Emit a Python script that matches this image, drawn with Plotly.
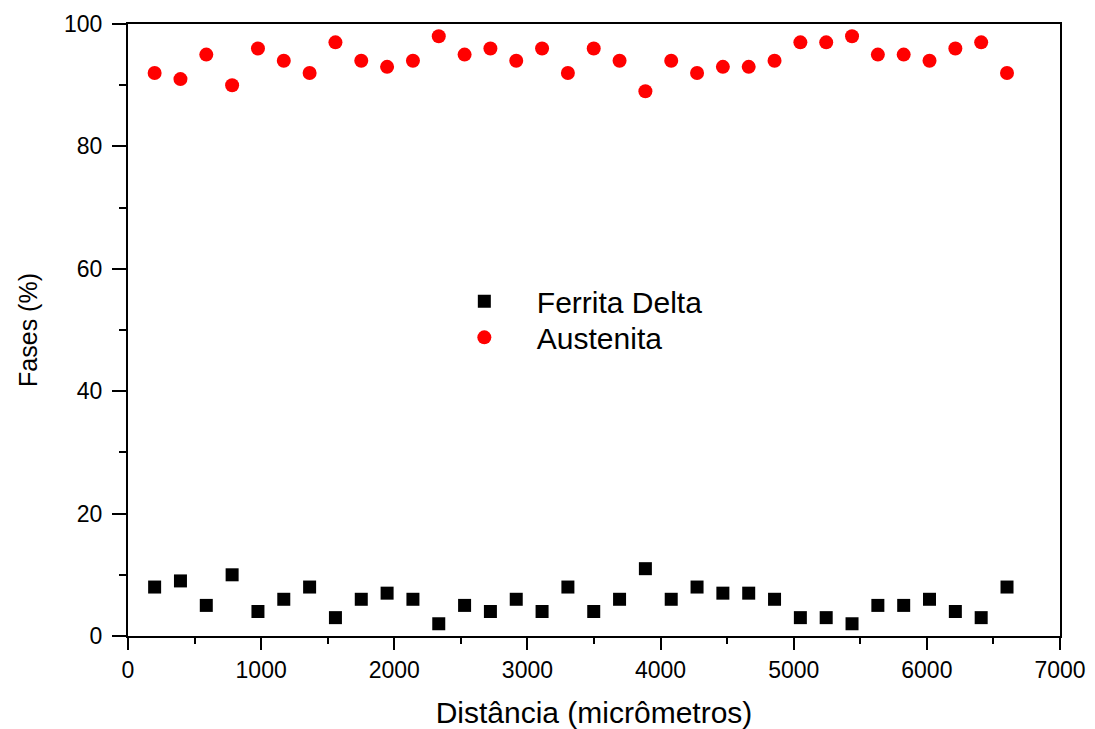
import plotly.graph_objects as go

distancia = [200, 394, 588, 782, 976, 1170, 1364, 1558, 1752, 1946, 2140, 2334,
             2528, 2722, 2916, 3110, 3304, 3498, 3692, 3886, 4080, 4274, 4468,
             4662, 4856, 5050, 5244, 5438, 5632, 5826, 6020, 6214, 6408, 6602]
ferrita = [8, 9, 5, 10, 4, 6, 8, 3, 6, 7, 6, 2, 5, 4, 6, 4, 8, 4, 6, 11, 6, 8,
           7, 7, 6, 3, 3, 2, 5, 5, 6, 4, 3, 8]
austenita = [92, 91, 95, 90, 96, 94, 92, 97, 94, 93, 94, 98, 95, 96, 94, 96, 92,
             96, 94, 89, 94, 92, 93, 93, 94, 97, 97, 98, 95, 95, 94, 96, 97, 92]

FONT = "Liberation Sans, Arial, sans-serif"

fig = go.Figure()
fig.add_trace(go.Scatter(x=distancia, y=ferrita, mode="markers", name="Ferrita Delta",
                         legend="legend",
                         marker=dict(symbol="square", size=13, color="black")))
fig.add_trace(go.Scatter(x=distancia, y=austenita, mode="markers", name="Austenita",
                         legend="legend2",
                         marker=dict(symbol="circle", size=14, color="#ff0000")))

common = dict(showline=True, linecolor="black", linewidth=2, mirror=True,
              ticks="outside", tickwidth=2, tickcolor="black",
              showgrid=False, zeroline=False, automargin=False,
              tickfont=dict(family=FONT, size=23, color="black"))

fig.update_xaxes(range=[0, 7000], dtick=1000, tick0=0, ticklen=12,
                 title=dict(text="Distância (micrômetros)", standoff=20,
                            font=dict(family=FONT, size=30, color="black")),
                 minor=dict(ticks="outside", ticklen=6, tickwidth=2, tickcolor="black", dtick=500),
                 **common)
fig.update_yaxes(range=[0, 100], dtick=20, tick0=0, ticklen=14, ticklabelstandoff=5,
                 title=dict(text="Fases (%)", standoff=19,
                            font=dict(family=FONT, size=25, color="black")),
                 minor=dict(ticks="outside", ticklen=7, tickwidth=2, tickcolor="black", dtick=10),
                 **common)

leg = dict(xanchor="left", yanchor="middle", bgcolor="rgba(0,0,0,0)", borderwidth=0,
           font=dict(family=FONT, size=30, color="black"), itemwidth=95)
fig.update_layout(
    width=1095, height=729,
    margin=dict(l=128, r=35, t=24, b=93),
    paper_bgcolor="white", plot_bgcolor="white",
    font=dict(family=FONT, color="black"),
    showlegend=True,
    legend=dict(x=0.326, y=0.547, **leg),
    legend2=dict(x=0.326, y=0.488, **leg),
)

fig.write_html("out.html", config={"displayModeBar": False},
               post_script="document.body.style.margin='0';document.body.style.overflow='hidden';")
